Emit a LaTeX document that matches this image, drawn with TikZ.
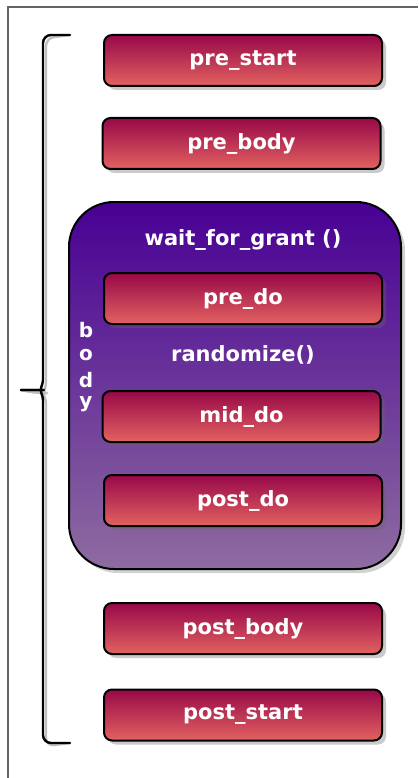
\documentclass[tikz,border=0pt]{standalone}
\usepackage{fontspec}
\setmainfont{DejaVu Sans}
\usetikzlibrary{shadows}
\definecolor{boxtop}{RGB}{152,8,72}
\definecolor{boxbot}{RGB}{226,98,96}
\definecolor{bodytop}{RGB}{72,0,148}
\definecolor{bodybot}{RGB}{142,108,160}
\definecolor{framegray}{RGB}{100,100,100}
\tikzset{
  phase/.style={draw=black, line width=2pt, rounded corners=8pt,
    minimum width=278pt, minimum height=51pt,
    top color=boxtop, bottom color=boxbot,
    drop shadow={shadow xshift=4pt, shadow yshift=-4pt, opacity=0.35, fill=black!60},
    text=white, font=\fontsize{21}{24}\selectfont\bfseries},
  bodybox/.style={draw=black, line width=2pt, rounded corners=45pt,
    minimum width=332pt, minimum height=367pt,
    top color=bodytop, bottom color=bodybot,
    drop shadow={shadow xshift=4pt, shadow yshift=-4pt, opacity=0.3, fill=black!60}},
  label/.style={text=white, font=\fontsize{21}{24}\selectfont\bfseries},
  letter/.style={text=white, font=\fontsize{20}{22}\selectfont\bfseries, inner sep=0pt},
  brace/.style={line width=2.4pt, line cap=round, rounded corners=8pt},
}
\begin{document}
\begin{tikzpicture}[x=1pt,y=-1pt]
\useasboundingbox (0,0) rectangle (418,778);
% partial outer frame
\draw[framegray, line width=1.5pt] (418,7) -- (8,7) -- (8,778);

% brace shadow and brace
\coordinate (bt) at (70,35);
\coordinate (bb) at (70,743);
\coordinate (btip) at (21,390);
\draw[brace, black!25, shift={(3,3)}] (bt) -- (43,35) -- (43,372) .. controls (43,385) and (39,390) .. (34,390) -- (btip);
\draw[brace, black!25, shift={(3,3)}] (btip) -- (34,390) .. controls (39,390) and (43,395) .. (43,408) -- (43,743) -- (bb);
\draw[brace] (bt) -- (43,35) -- (43,372) .. controls (43,385) and (39,390) .. (34,390) -- (btip);
\draw[brace] (btip) -- (34,390) .. controls (39,390) and (43,395) .. (43,408) -- (43,743) -- (bb);

% body container
\node[bodybox] (body) at (235,385.5) {};
\node[label] (wfg) at (243,240) {wait\_for\_grant ()};
\node[label] (rnd) at (243,355) {randomize()};
\node[letter] (lb) at (86,330) {b};
\node[letter] (lo) at (86,355) {o};
\node[letter] (ld) at (86,380) {d};
\node[letter] (ly) at (86,404) {y};

% phases
\node[phase] (prestart) at (243,60.5) {pre\_start};
\node[phase] (prebody) at (241.5,143.5) {pre\_body};
\node[phase] (predo) at (243,298.5) {pre\_do};
\node[phase] (middo) at (241.5,416.5) {mid\_do};
\node[phase] (postdo) at (243,500.5) {post\_do};
\node[phase] (postbody) at (243,628.5) {post\_body};
\node[phase] (poststart) at (243,715) {post\_start};
\end{tikzpicture}
\end{document}
